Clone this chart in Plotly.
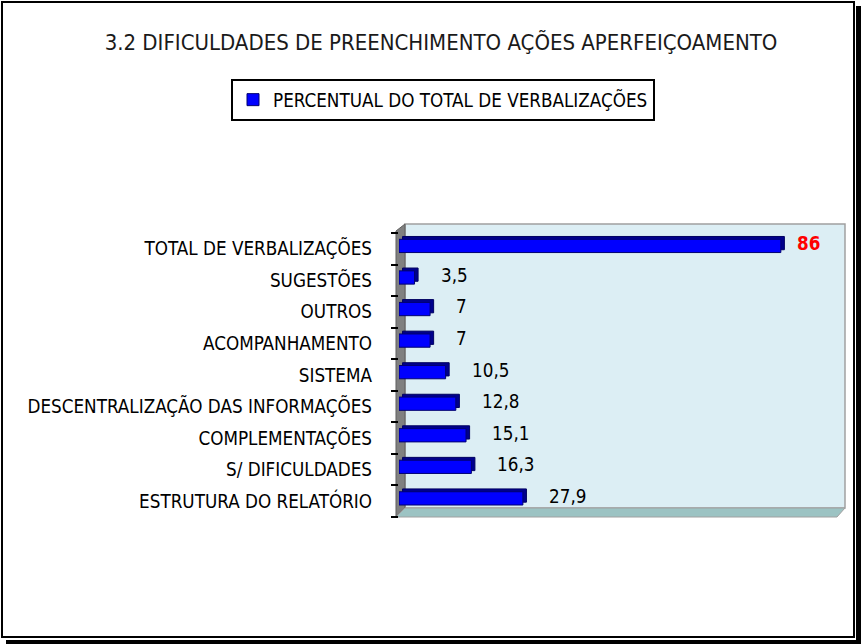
import plotly.graph_objects as go

# categories listed bottom -> top, as the chart draws them
categorias = ['ESTRUTURA DO RELATÓRIO', 'S/ DIFICULDADES', 'COMPLEMENTAÇÕES',
              'DESCENTRALIZAÇÃO DAS INFORMAÇÕES', 'SISTEMA', 'ACOMPANHAMENTO',
              'OUTROS', 'SUGESTÕES', 'TOTAL DE VERBALIZAÇÕES']
percentual = [27.9, 16.3, 15.1, 12.8, 10.5, 7, 7, 3.5, 86]
serie_nome = 'PERCENTUAL DO TOTAL DE VERBALIZAÇÕES'
titulo = '3.2 DIFICULDADES DE PREENCHIMENTO AÇÕES APERFEIÇOAMENTO'
destaque = 'TOTAL DE VERBALIZAÇÕES'

W, H = 861, 644
ML, MR, MT, MB = 399, 18, 233, 127
PW, PH = W - ML - MR, H - MT - MB
FONT = 'DejaVu Sans Condensed, Liberation Sans Narrow, sans-serif'
FS = 18.7


def px(x):
    return (x - ML) / PW


def py(y):
    return (H - MB - y) / PH


def path(points):
    return 'M' + 'L'.join(f'{px(a):.5f},{py(b):.5f}' for a, b in points) + 'Z'


fig = go.Figure()

# dark depth face of the 3D bars (top and right side)
fig.add_trace(go.Bar(
    y=categorias, x=percentual, base=0.8, orientation='h',
    width=0.42, offset=-0.03,
    marker=dict(color='#00008C', line=dict(color='#000060', width=1)),
    showlegend=False, hoverinfo='skip'))

# front face
fig.add_trace(go.Bar(
    y=categorias, x=percentual, orientation='h', name=serie_nome,
    width=0.42, offset=-0.12,
    marker=dict(color='#0000FF', line=dict(color='#000070', width=1))))

for c, v in zip(categorias, percentual):
    txt = f'{v:g}'.replace('.', ',')
    if c == destaque:
        fnt = dict(family=FONT, size=FS, color='#FF0000')
        txt = f'<b>{txt}</b>'
        shift = 14
    else:
        fnt = dict(family=FONT, size=FS, color='#000000')
        shift = 24
    fig.add_annotation(x=v, y=c, text=txt, showarrow=False, xanchor='left',
                       xshift=shift, yshift=5, font=fnt)

shapes = [
    # frame with drop shadow
    dict(type='rect', xref='paper', yref='paper', x0=px(6), y0=py(6), x1=px(861), y1=py(644),
         fillcolor='#000000', line=dict(width=0), layer='below'),
    dict(type='rect', xref='paper', yref='paper', x0=px(0), y0=py(0), x1=px(856), y1=py(640),
         fillcolor='#FFFFFF', line=dict(width=0), layer='below'),
    # back wall
    dict(type='path', xref='paper', yref='paper',
         path=path([(405, 224), (845, 224), (845, 508), (405, 508)]),
         fillcolor='#DCEEF4', line=dict(color='#A0A0A0', width=1.5), layer='below'),
    # side wall
    dict(type='path', xref='paper', yref='paper',
         path=path([(396, 231), (405, 224), (405, 508), (396, 517)]),
         fillcolor='#808080', line=dict(color='#606060', width=1), layer='below'),
    # floor
    dict(type='path', xref='paper', yref='paper',
         path=path([(396, 517), (405, 508), (845, 508), (837, 517)]),
         fillcolor='#9CC3C3', line=dict(color='#A0A0A0', width=1), layer='below'),
    dict(type='rect', xref='paper', yref='paper', x0=px(2), y0=py(2), x1=px(854), y1=py(637),
         fillcolor='rgba(0,0,0,0)', line=dict(color='#000000', width=2), layer='above'),
]

fig.update_layout(
    width=W, height=H,
    margin=dict(l=ML, r=MR, t=MT, b=MB),
    paper_bgcolor='rgba(0,0,0,0)', plot_bgcolor='rgba(0,0,0,0)',
    font=dict(family=FONT, size=FS, color='#000000'),
    title=dict(text=titulo, x=441 / W, y=1 - 42 / H, xanchor='center', yanchor='middle',
               font=dict(family=FONT, size=22, color='#1A1A1A')),
    showlegend=True,
    legend=dict(x=px(443), y=py(79), xanchor='center', yanchor='top', orientation='h',
                bordercolor='#000000', borderwidth=2, bgcolor='#FFFFFF',
                font=dict(family=FONT, size=FS, color='#000000')),
    barmode='overlay',
    shapes=shapes,
)
fig.update_xaxes(range=[0, 100], visible=False, fixedrange=True)
fig.update_yaxes(type='category', range=[-0.5, 8.5], showgrid=False, zeroline=False,
                 showline=False, ticks='outside', tickson='boundaries', ticklen=7,
                 tickwidth=2, tickcolor='#000000', ticklabelstandoff=26, fixedrange=True)

fig.write_html('out.html', config={'displayModeBar': False},
               post_script="document.body.style.margin='0';")
